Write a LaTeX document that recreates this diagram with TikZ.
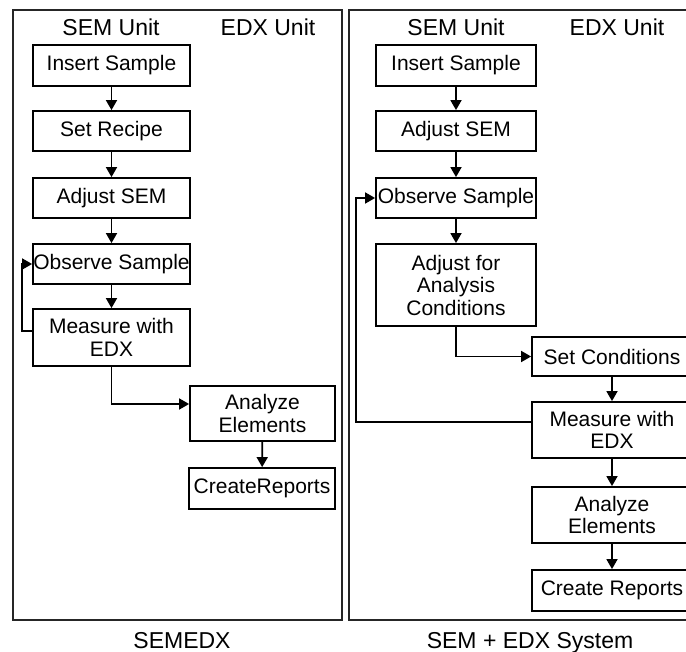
\documentclass[tikz,border=0pt]{standalone}
\usepackage{fontspec}
\setmainfont{Liberation Sans}
\usetikzlibrary{arrows.meta}
\begin{document}
\begin{tikzpicture}[x=1pt,y=-1pt,
  stepbox/.style={draw=black,line width=1.8pt,inner sep=0pt,align=center,
    font=\fontsize{21}{22.5}\selectfont},
  header/.style={anchor=base,inner sep=0pt,font=\fontsize{23}{25}\selectfont},
  frame/.style={draw=black!85,line width=2.4pt},
  flow/.style={line width=1.7pt,-{Triangle[length=10pt,width=11pt]}}]
\useasboundingbox (0,0) rectangle (686,652);
\clip (0,0) rectangle (686,652);

% panel frames
\draw[frame] (13,10) rectangle (342,620);
\draw[frame] (349,10) rectangle (705,620);

% column headings
\node[header] (h1) at (111,36) {SEM Unit};
\node[header] (h2) at (268,36) {EDX Unit};
\node[header] (h3) at (456,36) {SEM Unit};
\node[header] (h4) at (617,36) {EDX Unit};

% captions
\node[header] (c1) at (182,648) {SEMEDX};
\node[header] (c2) at (530,648) {SEM + EDX System};

% left panel: SEMEDX
\node[stepbox,minimum width=157pt,minimum height=41pt] (ins1) at (111.5,65.5) {Insert Sample};
\node[stepbox,minimum width=157pt,minimum height=40pt] (rec1) at (111.5,131) {Set Recipe};
\node[stepbox,minimum width=157pt,minimum height=40pt] (adj1) at (111.5,198) {Adjust SEM};
\node[stepbox,minimum width=157pt,minimum height=40pt] (obs1) at (111.5,264) {Observe Sample};
\node[stepbox,minimum width=157pt,minimum height=57pt] (mea1) at (111.5,337.5) {Measure with\\EDX};
\node[stepbox,minimum width=145pt,minimum height=55pt] (ana1) at (262.5,413.5) {Analyze\\Elements};
\node[stepbox,minimum width=146pt,minimum height=41pt] (rep1) at (262,488.5) {CreateReports};

\draw[flow] (ins1) -- (rec1);
\draw[flow] (rec1) -- (adj1);
\draw[flow] (adj1) -- (obs1);
\draw[flow] (obs1) -- (mea1);
\draw[flow] (mea1.south) |- ([yshift=9.5pt]ana1.west);
\draw[flow] (ana1) -- (rep1);
\draw[flow] ([yshift=6.5pt]mea1.west) -- ++(-10,0) |- (obs1.west);

% right panel: SEM + EDX system
\node[stepbox,minimum width=160pt,minimum height=41pt] (ins2) at (456,65.5) {Insert Sample};
\node[stepbox,minimum width=160pt,minimum height=40pt] (adj2) at (456,131) {Adjust SEM};
\node[stepbox,minimum width=160pt,minimum height=40pt] (obs2) at (456,198) {Observe Sample};
\node[stepbox,minimum width=160pt,minimum height=82pt] (afc2) at (456,285) {Adjust for\\Analysis\\Conditions};
\node[stepbox,minimum width=160pt,minimum height=39pt] (set2) at (612,356.5) {Set Conditions};
\node[stepbox,minimum width=160pt,minimum height=56pt] (mea2) at (612,430) {Measure with\\EDX};
\node[stepbox,minimum width=160pt,minimum height=56pt] (ana2) at (612,515) {Analyze\\Elements};
\node[stepbox,minimum width=160pt,minimum height=41pt] (rep2) at (612,590.5) {Create Reports};

\draw[flow] (ins2) -- (adj2);
\draw[flow] (adj2) -- (obs2);
\draw[flow] (obs2) -- (afc2);
\draw[flow] (afc2.south) |- (set2.west);
\draw[flow] (set2) -- (mea2);
\draw[flow] (mea2) -- (ana2);
\draw[flow] (ana2) -- (rep2);
\draw[flow] ([yshift=8pt]mea2.west) -- ++(-175,0) |- (obs2.west);
\end{tikzpicture}
\end{document}
